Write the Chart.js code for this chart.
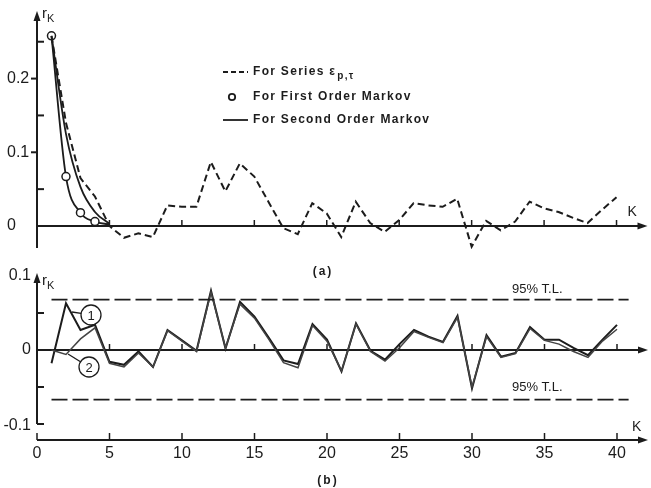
<!DOCTYPE html>
<html>
<head>
<meta charset="utf-8">
<script src="https://cdn.jsdelivr.net/npm/chart.js@4.4.1/dist/chart.umd.min.js"></script>
<style>
  html, body { margin: 0; padding: 0; background: #fff; }
  #wrap { position: relative; width: 651px; height: 488px; overflow: hidden; }
  canvas { position: absolute; left: 0; }
  #chartA { top: 0; }
  #chartB { top: 258px; }
</style>
</head>
<body>
<div id="wrap">
  <canvas id="chartA" width="651" height="280"></canvas>
  <canvas id="chartB" width="651" height="230"></canvas>
</div>
<script>
// ---- data ----
const lags = [1, 2, 3, 4, 5, 6, 7, 8, 9, 10, 11, 12, 13, 14, 15, 16, 17, 18, 19, 20,
  21, 22, 23, 24, 25, 26, 27, 28, 29, 30, 31, 32, 33, 34, 35, 36, 37, 38, 39, 40];

// (a) autocorrelation of series eps_p,tau
const epsSeries = [0.258, 0.14, 0.065, 0.04, 0.0, -0.016, -0.01, -0.015, 0.028, 0.026,
  0.026, 0.087, 0.047, 0.085, 0.067, 0.032, -0.003, -0.011, 0.031, 0.017,
  -0.015, 0.033, 0.004, -0.008, 0.008, 0.031, 0.028, 0.026, 0.037, -0.028,
  0.007, -0.006, 0.006, 0.033, 0.024, 0.019, 0.011, 0.004, 0.022, 0.039];

const markovLags = [1, 2, 3, 4, 5];
const firstOrder = [0.258, 0.067, 0.018, 0.006, 0.002];
const secondOrder = [0.258, 0.125, 0.053, 0.019, 0.003];

// (b) residual autocorrelations, (1) first order, (2) second order
const resid1 = [-0.018, 0.063, 0.027, 0.034, -0.016, -0.02, -0.002, -0.023, 0.027, 0.013,
  -0.001, 0.08, 0.002, 0.065, 0.045, 0.016, -0.014, -0.019, 0.035, 0.014,
  -0.029, 0.036, -0.001, -0.013, 0.008, 0.027, 0.018, 0.011, 0.046, -0.052,
  0.02, -0.009, -0.004, 0.031, 0.014, 0.014, 0.003, -0.007, 0.014, 0.034];
const resid2 = [0.0, -0.006, 0.015, 0.03, -0.018, -0.023, -0.004, -0.023, 0.026, 0.012,
  -0.002, 0.078, 0.003, 0.062, 0.043, 0.014, -0.017, -0.024, 0.033, 0.012,
  -0.028, 0.035, -0.002, -0.015, 0.003, 0.025, 0.017, 0.01, 0.044, -0.05,
  0.018, -0.01, -0.005, 0.029, 0.013, 0.008, -0.002, -0.01, 0.012, 0.028];

const tlUpper = 0.068;
const tlLower = -0.067;
const tlSpan = [1, 40.8];

const xTicks = [0, 5, 10, 15, 20, 25, 30, 35, 40];
const yTicksTop = [0, 0.1, 0.2];
const yMinorTop = [0.05, 0.15, 0.25];
const yTicksBottom = [-0.1, 0, 0.1];
const yMinorBottom = [-0.05, 0.05];

const INK = '#1c1c1c';
const FONT = "'Liberation Sans', Arial, sans-serif";

const pts = (xs, ys) => xs.map((k, i) => ({ x: k, y: ys[i] }));

function seg (ctx, x1, y1, x2, y2) {
  ctx.beginPath();
  ctx.moveTo(x1, y1);
  ctx.lineTo(x2, y2);
  ctx.stroke();
}

// (x, y) is the tip of the arrow
function arrowHead (ctx, x, y, dir) {
  ctx.beginPath();
  if (dir === 'up') {
    ctx.moveTo(x, y); ctx.lineTo(x - 3.5, y + 10); ctx.lineTo(x + 3.5, y + 10);
  } else {
    ctx.moveTo(x, y); ctx.lineTo(x - 10, y - 3.5); ctx.lineTo(x - 10, y + 3.5);
  }
  ctx.closePath();
  ctx.fill();
}

function subText (ctx, main, sub, x, y, size) {
  ctx.font = `${size}px ${FONT}`;
  ctx.textAlign = 'left';
  ctx.textBaseline = 'middle';
  ctx.fillText(main, x, y);
  const w = ctx.measureText(main).width;
  ctx.font = `${Math.round(size * 0.75)}px ${FONT}`;
  ctx.fillText(sub, x + w, y + size * 0.35);
}

function panelTag (ctx, text, x, y) {
  ctx.save();
  ctx.font = `bold 12px ${FONT}`;
  ctx.letterSpacing = '2px';
  ctx.textAlign = 'center';
  ctx.textBaseline = 'middle';
  ctx.fillText(text, x, y);
  ctx.restore();
}

const axesA = {
  id: 'axesA',
  beforeDatasetsDraw (chart) {
    const { ctx, scales: { x, y } } = chart;
    const x0 = x.getPixelForValue(0);
    const y0 = y.getPixelForValue(0);
    ctx.save();
    ctx.strokeStyle = INK;
    ctx.fillStyle = INK;
    ctx.lineWidth = 2;
    // vertical axis
    seg(ctx, x0, y.bottom + 3, x0, y.top - 10);
    arrowHead(ctx, x0, y.top - 14, 'up');
    yTicksTop.forEach(v => { if (v !== 0) seg(ctx, x0 - 6, y.getPixelForValue(v), x0, y.getPixelForValue(v)); });
    yMinorTop.forEach(v => seg(ctx, x0, y.getPixelForValue(v), x0 + 7, y.getPixelForValue(v)));
    // horizontal axis at zero
    seg(ctx, x0, y0, x.right - 2, y0);
    arrowHead(ctx, x.right + 2, y0, 'right');
    ctx.lineWidth = 1.5;
    xTicks.forEach(v => { if (v !== 0) seg(ctx, x.getPixelForValue(v), y0, x.getPixelForValue(v), y0 - 6); });

    ctx.font = `16px ${FONT}`;
    ctx.textAlign = 'left';
    ctx.textBaseline = 'middle';
    yTicksTop.forEach(v => ctx.fillText(v === 0 ? '0' : v.toFixed(1), 7, y.getPixelForValue(v)));
    subText(ctx, 'r', 'K', x0 + 5, y.top - 11, 15);
    ctx.font = `14px ${FONT}`;
    ctx.fillText('K', x.right - 18, y0 - 14);
    panelTag(ctx, '(a)', 323, 272);

    // legend
    const lx = 223, lw = 25, tx = 253;
    const rows = [72, 97, 120];
    ctx.lineWidth = 1.8;
    ctx.setLineDash([5, 3]);
    seg(ctx, lx, rows[0], lx + lw, rows[0]);
    ctx.setLineDash([]);
    ctx.beginPath();
    ctx.arc(lx + 9, rows[1], 3.2, 0, Math.PI * 2);
    ctx.stroke();
    seg(ctx, lx, rows[2], lx + lw, rows[2]);
    ctx.font = `bold 12px ${FONT}`;
    ctx.letterSpacing = '1.3px';
    ctx.textAlign = 'left';
    ctx.fillText('For Series \u03b5', tx, rows[0]);
    const w = ctx.measureText('For Series \u03b5').width;
    ctx.font = `bold 10px ${FONT}`;
    ctx.fillText('p,\u03c4', tx + w + 1, rows[0] + 4);
    ctx.font = `bold 12px ${FONT}`;
    ctx.fillText('For First Order Markov', tx, rows[1]);
    ctx.fillText('For Second Order Markov', tx, rows[2]);
    ctx.restore();
  }
};

const axesB = {
  id: 'axesB',
  beforeDatasetsDraw (chart) {
    const { ctx, scales: { x, y } } = chart;
    const x0 = x.getPixelForValue(0);
    const y0 = y.getPixelForValue(0);
    const yb = y.bottom;
    ctx.save();
    ctx.strokeStyle = INK;
    ctx.fillStyle = INK;
    ctx.lineWidth = 2;
    // vertical axis
    const yTop = y.getPixelForValue(0.1);
    const yBot = y.getPixelForValue(-0.1);
    seg(ctx, x0, yBot, x0, yTop + 4);
    arrowHead(ctx, x0, yTop - 3, 'up');
    seg(ctx, x0, yBot, x0 + 7, yBot);
    yMinorBottom.forEach(v => seg(ctx, x0, y.getPixelForValue(v), x0 + 7, y.getPixelForValue(v)));
    // zero line
    seg(ctx, x0, y0, x.right - 2, y0);
    arrowHead(ctx, x.right + 2, y0, 'right');
    // bottom axis
    seg(ctx, x0, yb, x.right - 2, yb);
    arrowHead(ctx, x.right + 2, yb, 'right');
    ctx.lineWidth = 1.5;
    xTicks.forEach(v => {
      const px = x.getPixelForValue(v);
      if (v !== 0) seg(ctx, px, y0, px, y0 - 6);
      seg(ctx, px, yb, px, yb - 7);
    });

    ctx.font = `16px ${FONT}`;
    ctx.textBaseline = 'middle';
    ctx.textAlign = 'center';
    xTicks.forEach(v => ctx.fillText(String(v), x.getPixelForValue(v), yb + 14));
    ctx.textAlign = 'right';
    yTicksBottom.forEach(v => ctx.fillText(v === 0 ? '0' : v.toFixed(1), 31, y.getPixelForValue(v) + (v < 0 ? 2 : 0)));
    ctx.textAlign = 'left';
    subText(ctx, 'r', 'K', x0 + 5, yTop + 5, 15);
    ctx.font = `14px ${FONT}`;
    ctx.fillText('K', x.right - 14, yb - 13);

    ctx.font = `13px ${FONT}`;
    ctx.textAlign = 'center';
    ctx.fillText('95% T.L.', x.getPixelForValue(34.5), y.getPixelForValue(tlUpper) - 10);
    ctx.fillText('95% T.L.', x.getPixelForValue(34.5), y.getPixelForValue(tlLower) - 12);
    panelTag(ctx, '(b)', 328, yb + 41);

    // curve tags (1) and (2)
    ctx.lineWidth = 1.3;
    const tags = [
      { t: '1', cx: 91, cy: 315 - 258, fx: 72, fy: 312 - 258 },
      { t: '2', cx: 89, cy: 367 - 258, fx: 68, fy: 354 - 258 }
    ];
    tags.forEach(tg => {
      ctx.beginPath();
      ctx.arc(tg.cx, tg.cy, 10, 0, Math.PI * 2);
      ctx.fillStyle = '#fff';
      ctx.fill();
      ctx.stroke();
      const a = Math.atan2(tg.fy - tg.cy, tg.fx - tg.cx);
      seg(ctx, tg.cx + 10 * Math.cos(a), tg.cy + 10 * Math.sin(a), tg.fx, tg.fy);
      ctx.fillStyle = INK;
      ctx.font = `13px ${FONT}`;
      ctx.fillText(tg.t, tg.cx, tg.cy + 1);
    });
    ctx.restore();
  }
};

const baseOpts = (yMin, yMax, pad) => ({
  responsive: false,
  animation: false,
  events: [],
  layout: { padding: pad },
  plugins: { legend: { display: false }, tooltip: { enabled: false } },
  scales: {
    x: { type: 'linear', min: 0, max: 42, display: false },
    y: { type: 'linear', min: yMin, max: yMax, display: false }
  }
});

new Chart(document.getElementById('chartA'), {
  type: 'line',
  data: {
    datasets: [
      {
        data: pts(lags, epsSeries),
        borderColor: INK, borderWidth: 2, borderDash: [7, 4],
        pointRadius: 0, tension: 0, clip: false
      },
      {
        data: pts(markovLags, secondOrder),
        borderColor: INK, borderWidth: 1.8, pointRadius: 0,
        cubicInterpolationMode: 'monotone', clip: false
      },
      {
        data: pts(markovLags, firstOrder),
        borderColor: INK, borderWidth: 1.8,
        pointRadius: [4, 4, 4, 4, 0], pointBackgroundColor: '#fff',
        pointBorderColor: INK, pointBorderWidth: 1.5,
        cubicInterpolationMode: 'monotone', clip: false
      }
    ]
  },
  options: baseOpts(-0.0258, 0.2727, { top: 25, bottom: 35, left: 37, right: 5 }),
  plugins: [axesA]
});

new Chart(document.getElementById('chartB'), {
  type: 'line',
  data: {
    datasets: [
      {
        data: tlSpan.map(k => ({ x: k, y: tlUpper })),
        borderColor: INK, borderWidth: 1.8, borderDash: [16, 5], pointRadius: 0
      },
      {
        data: tlSpan.map(k => ({ x: k, y: tlLower })),
        borderColor: INK, borderWidth: 1.8, borderDash: [16, 5], pointRadius: 0
      },
      {
        data: pts(lags, resid2),
        borderColor: '#444', borderWidth: 1.5, pointRadius: 0, tension: 0, clip: false
      },
      {
        data: pts(lags, resid1),
        borderColor: INK, borderWidth: 2, pointRadius: 0, tension: 0, clip: false
      }
    ]
  },
  options: baseOpts(-0.1216, 0.1081, { top: 12, bottom: 48, left: 37, right: 5 }),
  plugins: [axesB]
});
</script>
</body>
</html>
